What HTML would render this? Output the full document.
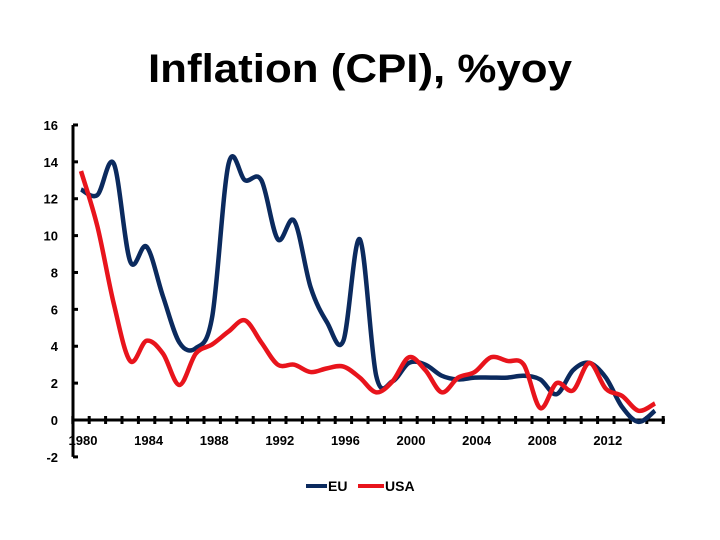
<!DOCTYPE html>
<html><head><meta charset="utf-8"><style>
body{margin:0;background:#fff;}
svg{display:block;font-family:"Liberation Sans",sans-serif;}
</style></head><body>
<svg id="chart" width="720" height="540" viewBox="0 0 720 540" xmlns="http://www.w3.org/2000/svg">
<text x="148" y="82" textLength="424" lengthAdjust="spacingAndGlyphs" font-size="40" font-weight="bold" fill="#000">Inflation (CPI), %yoy</text>
<g id="axes"></g>
<g id="series"></g>
<g>
<line x1="306" y1="486" x2="327" y2="486" stroke="#0b2a5e" stroke-width="4"/>
<text x="328" y="491" font-size="14" font-weight="bold">EU</text>
<line x1="358" y1="486" x2="384" y2="486" stroke="#e8141c" stroke-width="4"/>
<text x="385" y="491" font-size="14" font-weight="bold">USA</text>
</g>
</svg>
<script>
const years = [1980,1981,1982,1983,1984,1985,1986,1987,1988,1989,1990,1991,1992,1993,1994,1995,1996,1997,1998,1999,2000,2001,2002,2003,2004,2005,2006,2007,2008,2009,2010,2011,2012,2013,2014,2015];
const euValues = [12.5,12.2,13.9,8.6,9.4,6.7,4.2,3.9,5.6,13.9,13.0,13.0,9.8,10.8,7.2,5.3,4.3,9.8,2.4,2.1,3.1,3.0,2.4,2.2,2.3,2.3,2.3,2.4,2.2,1.4,2.7,3.1,2.3,0.7,-0.1,0.5];
const usaValues = [13.5,10.5,6.3,3.2,4.3,3.6,1.9,3.6,4.1,4.8,5.4,4.2,3.0,3.0,2.6,2.8,2.9,2.3,1.5,2.1,3.4,2.7,1.5,2.3,2.6,3.4,3.2,3.0,0.65,2.0,1.6,3.1,1.7,1.3,0.5,0.9];
const yTicks = [-2,0,2,4,6,8,10,12,14,16];
const xLabels = [1980,1984,1988,1992,1996,2000,2004,2008,2012];

const NS="http://www.w3.org/2000/svg";
const xs = y => 81 + (y-1980)*16.4;
const ys = v => 420 - v*18.44;
const axes=document.getElementById('axes'), series=document.getElementById('series');
function mk(tag,attrs,parent){const e=document.createElementNS(NS,tag);for(const k in attrs)e.setAttribute(k,attrs[k]);parent.appendChild(e);return e;}

let ya=mk('line',{x1:73,y1:ys(16),x2:73,y2:ys(-2),stroke:'#000','stroke-width':3},axes);


let xa=mk('line',{x1:73,y1:ys(0),x2:665,y2:ys(0),stroke:'#000','stroke-width':3},axes);


yTicks.forEach(t=>{
  mk('line',{x1:73,y1:ys(t),x2:78,y2:ys(t),stroke:'#000','stroke-width':3},axes);
  const tx=mk('text',{x:58,y:ys(t)+5,'text-anchor':'end','font-size':13,'font-weight':'bold'},axes);
  tx.textContent=t;
  
  
});
for(let i=0;i<=36;i++){
  const x=xs(1979.5+i);
  mk('line',{x1:x,y1:ys(0)-4,x2:x,y2:ys(0)+4,stroke:'#000','stroke-width':3},axes);
}
xLabels.forEach(l=>{
  const tx=mk('text',{x:xs(l)+2,y:445,'text-anchor':'middle','font-size':13,'font-weight':'bold'},axes);
  tx.textContent=l;
  
  
});
function smooth(vals){
  const p=vals.map((v,i)=>[xs(years[i]),ys(v)]);
  let d='M'+p[0][0]+','+p[0][1];
  for(let i=0;i<p.length-1;i++){
    const p0=p[Math.max(0,i-1)],p1=p[i],p2=p[i+1],p3=p[Math.min(p.length-1,i+2)];
    const c1=[p1[0]+(p2[0]-p0[0])/6,p1[1]+(p2[1]-p0[1])/6];
    const c2=[p2[0]-(p3[0]-p1[0])/6,p2[1]-(p3[1]-p1[1])/6];
    d+=' C'+c1+' '+c2+' '+p2;
  }
  return d;
}
const eu=mk('path',{d:smooth(euValues),fill:'none',stroke:'#0b2a5e','stroke-width':4.5,'stroke-linejoin':'round'},series);


const us=mk('path',{d:smooth(usaValues),fill:'none',stroke:'#e8141c','stroke-width':4.5,'stroke-linejoin':'round'},series);


</script>
</body></html>
